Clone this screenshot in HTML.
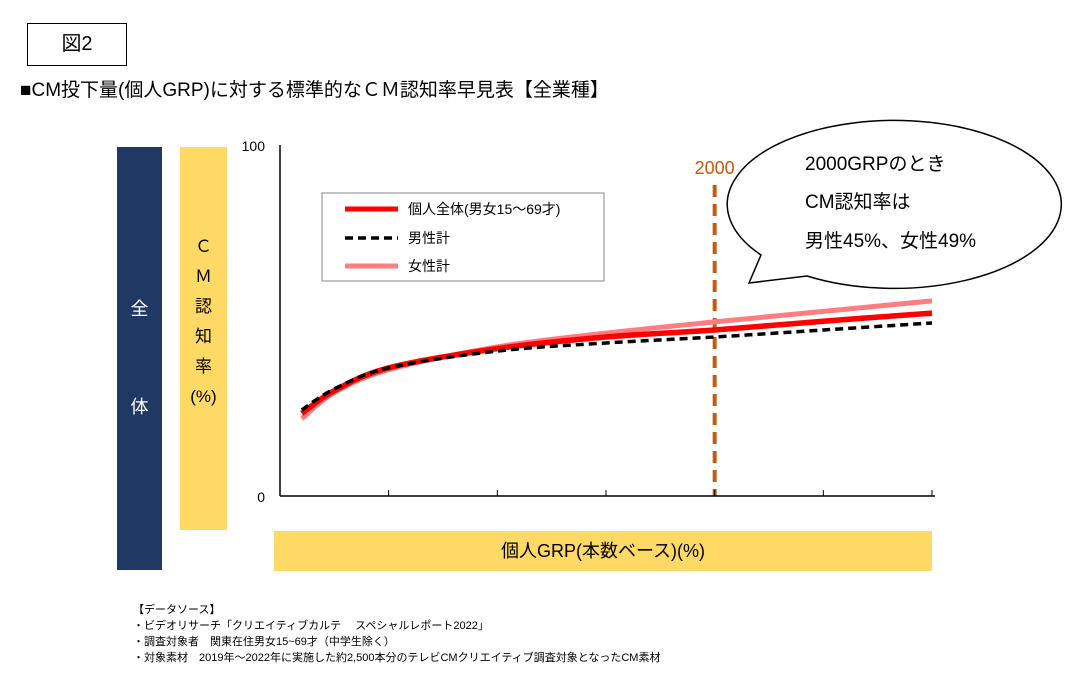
<!DOCTYPE html>
<html><head><meta charset="utf-8"><style>
body{margin:0;width:1087px;height:684px;background:#fff;font-family:"Liberation Sans","Noto Sans CJK JP",sans-serif;position:relative;overflow:hidden}
.abs{position:absolute}
</style></head><body>
<div class="abs" style="left:27px;top:23px;width:98px;height:41px;border:1px solid #000;font-size:20px;line-height:41px;text-align:center">図2</div>
<div class="abs" style="left:20px;top:75px;font-size:19px;white-space:nowrap">■CM投下量(個人GRP)に対する標準的なＣＭ認知率早見表【全業種】</div>
<div class="abs" style="left:117px;top:147px;width:45px;height:423px;background:#1F3864;color:#fff;font-size:18px">
<div style="position:absolute;top:148px;width:100%;text-align:center">全</div>
<div style="position:absolute;top:246px;width:100%;text-align:center">体</div></div>
<div class="abs" style="left:180px;top:147px;width:47px;height:383px;background:#FFD966;font-size:17px;text-align:center;line-height:30px;padding-top:85px;box-sizing:border-box">Ｃ<br>Ｍ<br>認<br>知<br>率<br>(%)</div>
<div class="abs" style="left:274px;top:531px;width:658px;height:40px;background:#FFD966;font-size:18px;line-height:40px;text-align:center">個人GRP(本数ベース)(%)</div>
<svg class="abs" style="left:0;top:0" width="1087" height="684" id="chart">
<g id="marks"></g>
<line x1="280" y1="145" x2="280" y2="496" stroke="#000" stroke-width="1.5"/>
<line x1="280" y1="496" x2="935" y2="496" stroke="#000" stroke-width="1.5"/>
<text x="265" y="151" font-size="14" text-anchor="end">100</text>
<text x="265" y="502" font-size="14" text-anchor="end">0</text>
<g>
<rect x="322" y="193" width="282" height="88" fill="#fff" stroke="#888"/>
<line x1="345" y1="209" x2="398" y2="209" stroke="#f00" stroke-width="5"/>
<text x="408" y="214" font-size="14">個人全体(男女15～69才)</text>
<line x1="345" y1="238" x2="398" y2="238" stroke="#000" stroke-width="3.5" stroke-dasharray="8,5"/>
<text x="408" y="243" font-size="14">男性計</text>
<line x1="345" y1="266" x2="398" y2="266" stroke="#FF7C80" stroke-width="5"/>
<text x="408" y="271" font-size="14">女性計</text>
</g>
<path d="M761,255 L749,283 L807,276 A167,84 0 1 0 761,255 Z" fill="#fff" stroke="#000" stroke-width="1.5"/>
<text x="805" y="170" font-size="19">2000GRPのとき</text>
<text x="805" y="208" font-size="19">CM認知率は</text>
<text x="805" y="247" font-size="19">男性45%、女性49%</text>
</svg>
<script>
const grp=[100,250,500,1000,1500,2000,2500,3000];
const overall=[23.5,30,36.5,42,45.3,47.3,49.8,52.1];
const male=[24.5,30.5,36.5,41.3,43.6,45.3,47.3,49.3];
const female=[22,29.5,36,42.5,46.4,49.6,52.6,55.6];
const xTicks=[0,500,1000,1500,2000,2500,3000];
const marker=2000;
const sx=v=>280+v/3000*652, sy=v=>496-v*3.51;
const NS="http://www.w3.org/2000/svg", g=document.getElementById('marks'), svg=document.getElementById('chart');
function smooth(arr){let d='';for(let i=0;i<grp.length;i++){const x=sx(grp[i]),y=sy(arr[i]);if(i==0)d+=`M${x},${y}`;else{const x0=sx(grp[i-1]),y0=sy(arr[i-1]);const xm=sx(grp[Math.max(0,i-2)]),ym=sy(arr[Math.max(0,i-2)]);const xn=sx(grp[Math.min(grp.length-1,i+1)]),yn=sy(arr[Math.min(grp.length-1,i+1)]);d+=`C${x0+(x-xm)/6},${y0+(y-ym)/6} ${x-(xn-x0)/6},${y-(yn-y0)/6} ${x},${y}`;}}return d;}
xTicks.forEach(t=>{const l=document.createElementNS(NS,'line');l.setAttribute('x1',sx(t));l.setAttribute('x2',sx(t));l.setAttribute('y1',490);l.setAttribute('y2',496);l.setAttribute('stroke','#000');


svg.appendChild(l);});
const vl=document.createElementNS(NS,'line');vl.setAttribute('x1',sx(marker));vl.setAttribute('x2',sx(marker));vl.setAttribute('y1',185);vl.setAttribute('y2',496);vl.setAttribute('stroke','#C55A11');vl.setAttribute('stroke-width','4');vl.setAttribute('stroke-dasharray','12,7');


g.appendChild(vl);
const vt=document.createElementNS(NS,'text');vt.setAttribute('x',sx(marker));vt.setAttribute('y',174);vt.setAttribute('text-anchor','middle');vt.setAttribute('font-size','18');vt.setAttribute('fill','#C55A11');vt.textContent=marker;


g.appendChild(vt);
[[female,'#FF7C80',5,null,'line-female'],[overall,'#f00',5.5,null,'line-overall'],[male,'#000',3.5,'8,5','line-male']].forEach(s=>{const p=document.createElementNS(NS,'path');p.setAttribute('d',smooth(s[0]));p.setAttribute('fill','none');p.setAttribute('stroke',s[1]);p.setAttribute('stroke-width',s[2]);if(s[3])p.setAttribute('stroke-dasharray',s[3]);


g.appendChild(p);});
</script>
<div class="abs" style="left:133px;top:602px;font-size:11px;line-height:16px;white-space:nowrap">【データソース】<br>・ビデオリサーチ「クリエイティブカルテ　 スペシャルレポート2022」<br>・調査対象者　関東在住男女15~69才（中学生除く）<br>・対象素材　2019年～2022年に実施した約2,500本分のテレビCMクリエイティブ調査対象となったCM素材</div>
</body></html>
